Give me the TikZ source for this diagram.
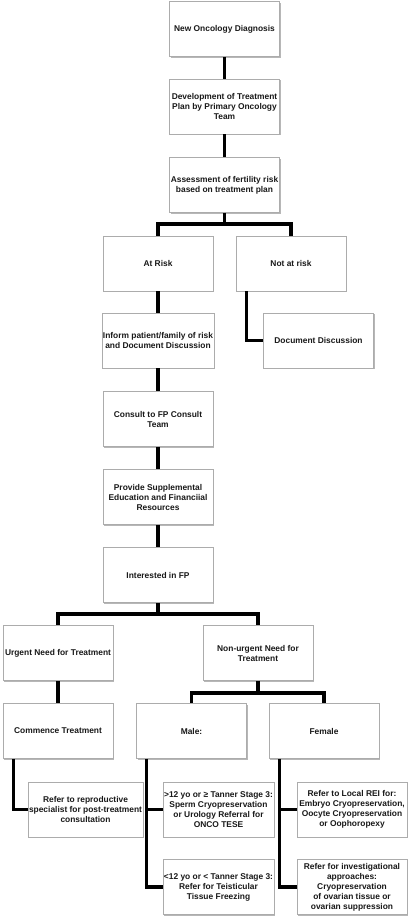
\documentclass[tikz,border=0pt]{standalone}
\usepackage{fontspec}
\setmainfont{Liberation Sans}
\usetikzlibrary{shadows}
\begin{document}
\begin{tikzpicture}[x=1pt,y=-1pt,
  box/.style={draw=gray!65, line width=0.6pt, fill=white, minimum width=110pt, minimum height=55pt,
    inner sep=1pt, align=center, text=black!90, font=\fontsize{8.4}{10}\selectfont\bfseries,
    drop shadow={shadow xshift=1.3pt, shadow yshift=-1.3pt, fill=gray!70, opacity=0.8}},
  conn/.style={line width=3.4pt, draw=black}]
\useasboundingbox (0,0) rectangle (410,920);
\fill[white] (0,0) rectangle (410,920);

\node[box] (new) at (224.5,29) {New Oncology Diagnosis};
\node[box] (dev) at (224.5,106.5) {Development of Treatment\\Plan by Primary Oncology\\Team};
\node[box] (assess) at (224.5,185) {Assessment of fertility risk\\based on treatment plan};
\node[box] (atrisk) at (158,263.5) {At Risk};
\node[box] (notrisk) at (291,263.5) {Not at risk};
\node[box] (inform) at (158,340.5) {Inform patient/family of risk\\and Document Discussion};
\node[box] (docdisc) at (318.5,340.5) {Document Discussion};
\node[box] (consult) at (158,419) {Consult to FP Consult\\Team};
\node[box] (provide) at (158,497) {Provide Supplemental\\Education and Financiial\\Resources};
\node[box] (interest) at (158,575) {Interested in FP};
\node[box] (urgent) at (58,653) {Urgent Need for Treatment};
\node[box] (nonurgent) at (258,653) {Non-urgent Need for\\Treatment};
\node[box] (commence) at (58,731) {Commence Treatment};
\node[box] (male) at (191.5,731) {Male:};
\node[box] (female) at (324,731) {Female};
\node[box] (refer) at (85.5,809.5) {Refer to reproductive\\specialist for post-treatment\\consultation};
\node[box] (male1) at (218.5,809.5) {>12 yo or ≥ Tanner Stage 3:\\Sperm Cryopreservation\\or Urology Referral for\\ONCO TESE};
\node[box] (male2) at (218.5,887) {<12 yo or < Tanner Stage 3:\\Refer for Teisticular\\Tissue Freezing};
\node[box] (fem1) at (352,809.5) {Refer to Local REI for:\\Embryo Cryopreservation,\\Oocyte Cryopreservation\\or Oophoropexy};
\node[box] (fem2) at (352,887) {Refer for investigational\\approaches:\\Cryopreservation\\of ovarian tissue or\\ovarian suppression};

\draw[conn] (new.south) -- (dev.north);
\draw[conn] (dev.south) -- (assess.north);
\draw[conn] (assess.south) -- ++(0,11) -| (atrisk.north);
\draw[conn] (assess.south) -- ++(0,11) -| (notrisk.north);
\draw[conn] ([xshift=11pt]notrisk.south west) |- (docdisc.west);
\draw[conn] (atrisk.south) -- (inform.north);
\draw[conn] (inform.south) -- (consult.north);
\draw[conn] (consult.south) -- (provide.north);
\draw[conn] (provide.south) -- (interest.north);
\draw[conn] (interest.south) -- ++(0,11) -| (urgent.north);
\draw[conn] (interest.south) -- ++(0,11) -| (nonurgent.north);
\draw[conn] (urgent.south) -- (commence.north);
\draw[conn] (nonurgent.south) -- ++(0,12) -| (male.north);
\draw[conn] (nonurgent.south) -- ++(0,12) -| (female.north);
\draw[conn] ([xshift=11pt]commence.south west) |- (refer.west);
\draw[conn] ([xshift=10pt]male.south west) |- (male1.west);
\draw[conn] ([xshift=10pt]male.south west) |- (male2.west);
\draw[conn] ([xshift=11pt]female.south west) |- (fem1.west);
\draw[conn] ([xshift=11pt]female.south west) |- (fem2.west);
\end{tikzpicture}
\end{document}
